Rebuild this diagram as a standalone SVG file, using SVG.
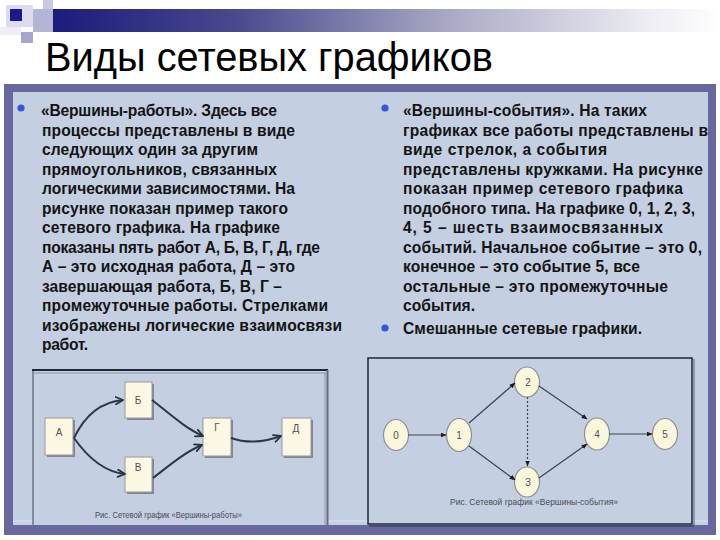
<svg xmlns="http://www.w3.org/2000/svg" width="720" height="540" viewBox="0 0 720 540">
<defs>
<linearGradient id="bar" x1="0" y1="0" x2="1" y2="0">
<stop offset="0" stop-color="#16167a"/>
<stop offset="0.3" stop-color="#4a4a8e"/>
<stop offset="0.6" stop-color="#a8a8c4"/>
<stop offset="0.9" stop-color="#eeeef4"/>
<stop offset="1" stop-color="#ffffff"/>
</linearGradient>
<marker id="chev" viewBox="0 0 10 10" refX="9" refY="5" markerWidth="9" markerHeight="9" markerUnits="userSpaceOnUse" orient="auto">
<path d="M1,1 L9,5 L1,9" fill="none" stroke="#243044" stroke-width="2" stroke-linecap="round" stroke-linejoin="round"/>
</marker>
<marker id="tri" viewBox="0 0 10 10" refX="9" refY="5" markerWidth="6" markerHeight="6" markerUnits="userSpaceOnUse" orient="auto">
<path d="M0,1 L10,5 L0,9 Z" fill="#1a1a24"/>
</marker>
<style>
.body{font-family:"Liberation Sans",Arial,sans-serif;font-weight:bold;font-size:15.6px;fill:#141414}
.title{font-family:"Liberation Sans",Arial,sans-serif;font-size:41px;fill:#000}
.cap{font-family:"Liberation Sans",Arial,sans-serif;font-size:9px;fill:#4a4a55}
.lbl{font-family:"Liberation Sans",Arial,sans-serif;font-size:10px;fill:#505058;text-anchor:middle}
.box{fill:#fcf8e4;stroke:#9a9a9a;stroke-width:1}
.shadow{fill:#7f8694}
.ev{fill:#fbf7dc;stroke:#8e8e8e;stroke-width:1.2}
.work{fill:none;stroke:#2a374c;stroke-width:2;marker-end:url(#chev)}
.evl{fill:none;stroke:#3c4250;stroke-width:1.2;marker-end:url(#tri)}
.bullet{fill:#3355e0}
</style>
</defs>
<rect x="0" y="0" width="720" height="540" fill="#ffffff"/>
<!-- header decoration -->
<g id="header">
<rect x="33" y="9" width="687" height="23" fill="url(#bar)"/>
<rect x="6" y="5" width="27" height="22" fill="#dcdcee"/>
<rect x="10" y="9" width="12" height="12" fill="#1a1a8e"/>
<rect x="43" y="0" width="10" height="9" fill="#c8c8e2"/>
<rect x="33" y="9" width="20" height="23" fill="#b4b4d6"/>
<rect x="21" y="32" width="12" height="11" fill="#a6a6cc"/>
<rect x="0" y="27" width="21" height="8" fill="#eeeef6"/>
</g>
<text class="title" x="45" y="71" textLength="448" lengthAdjust="spacingAndGlyphs">Виды сетевых графиков</text>
<!-- content frame -->
<rect x="4" y="84" width="712" height="451" fill="#68689e"/>
<rect x="13" y="92" width="695" height="433" fill="#c4d0e1"/>
<line x1="13" y1="521" x2="708" y2="521" stroke="#dde4ee" stroke-width="1"/>
<!-- left text -->
<g id="left-text">
<circle class="bullet" cx="21" cy="108" r="3.6"/>
<text class="body" x="41" y="116" textLength="236" lengthAdjust="spacing">«Вершины-работы». Здесь все</text>
<text class="body" x="42" y="135.5" textLength="253" lengthAdjust="spacing">процессы представлены в виде</text>
<text class="body" x="42" y="155" textLength="216" lengthAdjust="spacing">следующих один за другим</text>
<text class="body" x="42" y="174.5" textLength="235" lengthAdjust="spacing">прямоугольников, связанных</text>
<text class="body" x="42" y="194" textLength="253" lengthAdjust="spacing">логическими зависимостями. На</text>
<text class="body" x="42" y="213.5" textLength="246" lengthAdjust="spacing">рисунке показан пример такого</text>
<text class="body" x="42" y="233" textLength="238" lengthAdjust="spacing">сетевого графика. На графике</text>
<text class="body" x="42" y="252.5" textLength="278" lengthAdjust="spacing">показаны пять работ А, Б, В, Г, Д, где</text>
<text class="body" x="42" y="272" textLength="253" lengthAdjust="spacing">А – это исходная работа, Д – это</text>
<text class="body" x="42" y="291.5" textLength="240" lengthAdjust="spacing">завершающая работа, Б, В, Г –</text>
<text class="body" x="42" y="311" textLength="286" lengthAdjust="spacing">промежуточные работы. Стрелками</text>
<text class="body" x="42" y="330.5" textLength="300" lengthAdjust="spacing">изображены логические взаимосвязи</text>
<text class="body" x="42" y="350" textLength="46" lengthAdjust="spacing">работ.</text>
</g>
<!-- right text -->
<g id="right-text">
<circle class="bullet" cx="385" cy="108" r="3.6"/>
<text class="body" x="403" y="116" textLength="244" lengthAdjust="spacing">«Вершины-события». На таких</text>
<text class="body" x="403" y="135.5" textLength="305" lengthAdjust="spacing">графиках все работы представлены в</text>
<text class="body" x="403" y="155" textLength="204" lengthAdjust="spacing">виде стрелок, а события</text>
<text class="body" x="403" y="174.5" textLength="300" lengthAdjust="spacing">представлены кружками. На рисунке</text>
<text class="body" x="403" y="194" textLength="280" lengthAdjust="spacing">показан пример сетевого графика</text>
<text class="body" x="403" y="213.5" textLength="292" lengthAdjust="spacing">подобного типа. На графике 0, 1, 2, 3,</text>
<text class="body" x="403" y="233" textLength="260" lengthAdjust="spacing">4, 5 – шесть взаимосвязанных</text>
<text class="body" x="403" y="252.5" textLength="299" lengthAdjust="spacing">событий. Начальное событие – это 0,</text>
<text class="body" x="403" y="272" textLength="237" lengthAdjust="spacing">конечное – это событие 5, все</text>
<text class="body" x="403" y="291.5" textLength="265" lengthAdjust="spacing">остальные – это промежуточные</text>
<text class="body" x="403" y="311" textLength="72" lengthAdjust="spacing">события.</text>
<circle class="bullet" cx="385" cy="328" r="3.6"/>
<text class="body" x="403" y="334" textLength="239" lengthAdjust="spacing">Смешанные сетевые графики.</text>
</g>
<rect x="708" y="92" width="8" height="60" fill="#68689e"/>
<!-- left diagram frame -->
<g id="frame-left">
<rect x="33" y="371" width="294" height="154" fill="#c4d0e1"/>
<line x1="32" y1="370" x2="328" y2="370" stroke="#1e2636" stroke-width="2"/>
<line x1="34" y1="373" x2="326" y2="373" stroke="#8a98aa" stroke-width="1"/>
<line x1="33" y1="371" x2="33" y2="525" stroke="#56606e" stroke-width="1.2"/>
<line x1="325" y1="372" x2="325" y2="525" stroke="#8a94a2" stroke-width="1"/>
<line x1="327.5" y1="370" x2="327.5" y2="525" stroke="#646c7a" stroke-width="2"/>
<text class="cap" x="95" y="518" textLength="147" lengthAdjust="spacingAndGlyphs">Рис. Сетевой график «Вершины-работы»</text>
</g>
<!-- right diagram frame -->
<g id="frame-right">
<rect x="368" y="358" width="324" height="166" fill="#c4d0e1" stroke="#1e2636" stroke-width="1.5"/>
<line x1="694" y1="359" x2="694" y2="526" stroke="#56606e" stroke-width="1"/>
<line x1="369" y1="526" x2="694" y2="526" stroke="#2a3242" stroke-width="1"/>
<text class="cap" x="450" y="505" textLength="168" lengthAdjust="spacingAndGlyphs">Рис. Сетевой график «Вершины-события»</text>
</g>
<!-- left diagram nodes -->
<g id="node-A"><rect class="shadow" x="47" y="420" width="28" height="37"/><rect class="box" x="45" y="418" width="28" height="37"/><text class="lbl" x="59" y="436">А</text></g>
<g id="node-B"><rect class="shadow" x="127" y="384" width="27" height="36"/><rect class="box" x="125" y="382" width="27" height="36"/><text class="lbl" x="138" y="404">Б</text></g>
<g id="node-V"><rect class="shadow" x="127" y="459" width="27" height="35"/><rect class="box" x="125" y="457" width="27" height="35"/><text class="lbl" x="138" y="471">В</text></g>
<g id="node-G"><rect class="shadow" x="205" y="420" width="28" height="38"/><rect class="box" x="203" y="418" width="28" height="38"/><text class="lbl" x="217" y="431">Г</text></g>
<g id="node-D"><rect class="shadow" x="284" y="420" width="29" height="38"/><rect class="box" x="282" y="418" width="29" height="38"/><text class="lbl" x="296" y="432">Д</text></g>
<!-- right diagram nodes -->
<g id="ev-0"><ellipse class="ev" cx="396" cy="435" rx="12.5" ry="15.5"/><text class="lbl" x="396" y="439">0</text></g>
<g id="ev-1"><ellipse class="ev" cx="459" cy="435" rx="12.5" ry="16.5"/><text class="lbl" x="459" y="439">1</text></g>
<g id="ev-2"><ellipse class="ev" cx="527" cy="382" rx="12.5" ry="15"/><text class="lbl" x="528" y="386">2</text></g>
<g id="ev-3"><ellipse class="ev" cx="527" cy="482" rx="12.5" ry="15"/><text class="lbl" x="528" y="486">3</text></g>
<g id="ev-4"><ellipse class="ev" cx="597" cy="434" rx="12.5" ry="16"/><text class="lbl" x="597" y="438">4</text></g>
<g id="ev-5"><ellipse class="ev" cx="665" cy="434" rx="12.5" ry="15.5"/><text class="lbl" x="665" y="438">5</text></g>
<!-- connectors -->
<g id="connectors">
<path class="work" d="M74,438 C85,415 100,402 123,400"/>
<path class="work" d="M74,438 C88,458 105,472 125,474"/>
<path class="work" d="M152,400 C170,414 185,428 203,436"/>
<path class="work" d="M153,478 C170,465 185,452 202,445"/>
<path class="work" d="M231,438 C245,443 262,443 281,436"/>
<path class="evl" d="M408,435 L446,435"/>
<path class="evl" d="M469,423 L515,383"/>
<path class="evl" d="M469,446 L515,480"/>
<path class="evl" d="M539,386 L587,419"/>
<path class="evl" d="M539,478 L587,444"/>
<path class="evl" d="M609,434 L652,434"/>
<path d="M527.5,397 L527.5,466" fill="none" stroke="#3c4250" stroke-width="1.2" stroke-dasharray="2,2" marker-end="url(#tri)"/>
</g>
</svg>
